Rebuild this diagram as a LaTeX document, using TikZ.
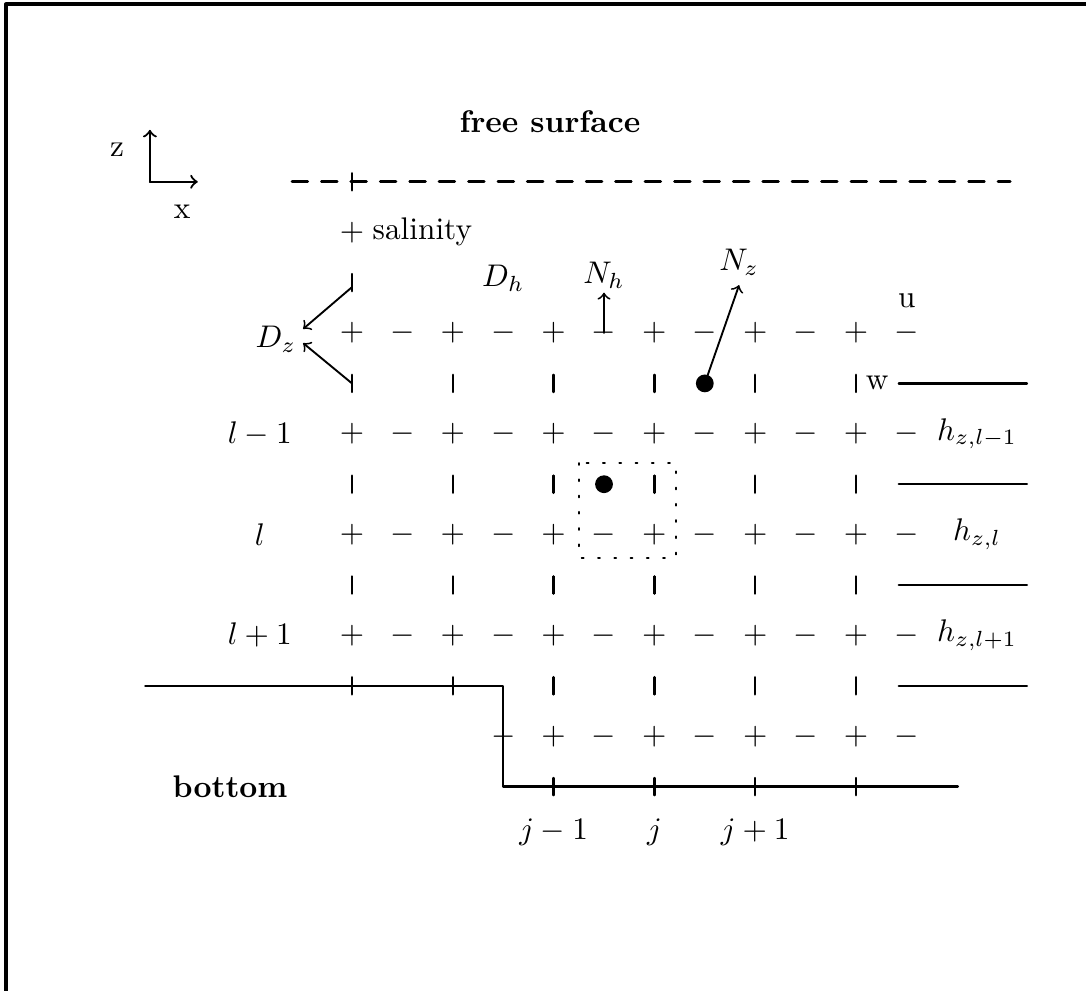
\documentclass[tikz,border=0pt]{standalone}
\usetikzlibrary{calc,positioning}

\tikzset{
  sgn/.style={inner sep=0pt},
  wtick/.style={line width=0.8pt},
  lvl/.style={line width=0.8pt},
}

\begin{document}
\begin{tikzpicture}[x=0.566cm,y=0.566cm,line cap=round,line join=round]
  \useasboundingbox (-6.984,-13.036) rectangle (14.563,6.607);
  % 外框
  \draw[line width=1.3pt,line cap=butt] (-6.865,-13.3) -- (-6.865,6.52) -- (14.7,6.52);
  % 坐标轴
  \coordinate (o) at (-4.01,3);
  \coordinate (zend) at (-4.01,4.03);
  \coordinate (xend) at (-3.06,3);
  \draw[line width=0.7pt,->] (o) -- (zend);
  \draw[line width=0.7pt,->] (o) -- (xend);
  \node (zlab) at (-4.66,3.64) {z};
  \node (xlab) at (-3.37,2.40) {x};
  % 自由表面
  \node[font=\bfseries] (fs) at (3.93,4.19) {free surface};
  \draw[line width=0.9pt,dash pattern=on 5pt off 4.4pt] (-1.19,3) -- (13.06,3);
  \draw[wtick] (0,2.83) -- (0,3.17);
  \node[sgn] (salp) at (0,2) {$+$};
  \node[right=-1pt of salp] (sal) {salinity};
  % u 行与 + − 网格
  \foreach \r in {0,2,4,6} {
    \foreach \c in {0,2,...,10} \node[sgn] (p\r-\c) at (\c,-\r) {$+$};
    \foreach \c in {1,3,...,11} \node[sgn] (m\r-\c) at (\c,-\r) {$-$};
  }
  \foreach \c in {4,6,...,10} \node[sgn] (p8-\c) at (\c,-8) {$+$};
  \foreach \c in {3,5,...,11} \node[sgn] (m8-\c) at (\c,-8) {$-$};
  % w 竖线
  \draw[wtick] (0,0.83) -- (0,1.17);
  \foreach \r in {1,3,5,7} {
    \foreach \c in {0,2,...,10} \draw[wtick] (\c,-\r+0.17) -- (\c,-\r-0.17);
  }
  \foreach \c in {4,6,...,10} \draw[wtick] (\c,-8.83) -- (\c,-9.17);
  % 层标记与层厚
  \node (lm) at (-1.83,-2) {$l-1$};
  \node (l0) at (-1.83,-4) {$l$};
  \node (lp) at (-1.83,-6) {$l+1$};
  \node (hm) at (12.4,-2) {$h_{z,l-1}$};
  \node (h0) at (12.4,-4) {$h_{z,l}$};
  \node (hp) at (12.4,-6) {$h_{z,l+1}$};
  \foreach \r in {1,3,5,7} \draw[lvl] (10.85,-\r) -- (13.39,-\r);
  \node (ulab) at (11.01,0.64) {u};
  \node (wlab) at (10.42,-1.0) {w};
  % 扩散与通量
  \node (Dz) at (-1.51,-0.13) {$D_z$};
  \coordinate (dza) at (0,0.91);
  \coordinate (dzb) at (0,-1);
  \coordinate (dzat) at (-0.97,0.08);
  \coordinate (dzbt) at (-0.97,-0.2);
  \draw[line width=0.6pt,->] (dza) -- (dzat);
  \draw[line width=0.6pt,->] (dzb) -- (dzbt);
  \node (Dh) at (3,1.08) {$D_h$};
  \node (Nh) at (5,1.14) {$N_h$};
  \coordinate (nhtip) at (5,0.8);
  \draw[line width=0.6pt,->] (m0-5.center) -- (nhtip);
  \node (Nz) at (7.68,1.40) {$N_z$};
  \node[circle,fill,inner sep=0pt,minimum size=0.2cm] (dotz) at (7,-1) {};
  \coordinate (nztip) at (7.68,0.95);
  \draw[line width=0.6pt,->] (dotz.center) -- (nztip);
  % 控制体
  \draw[line width=0.6pt,dash pattern=on 0.6pt off 4.6pt] (4.5,-2.58) rectangle (6.43,-4.46);
  \node[circle,fill,inner sep=0pt,minimum size=0.2cm] (dotc) at (5,-3) {};
  % 底部
  \draw[line width=0.8pt] (-4.1,-7) -- (3,-7) -- (3,-9) -- (12.02,-9);
  \node[font=\bfseries] (bot) at (-2.42,-9) {bottom};
  \node (jm) at (4,-9.9) {$j-1$};
  \node (j0) at (6,-9.9) {$j$};
  \node (jp) at (8,-9.9) {$j+1$};
\end{tikzpicture}
\end{document}
